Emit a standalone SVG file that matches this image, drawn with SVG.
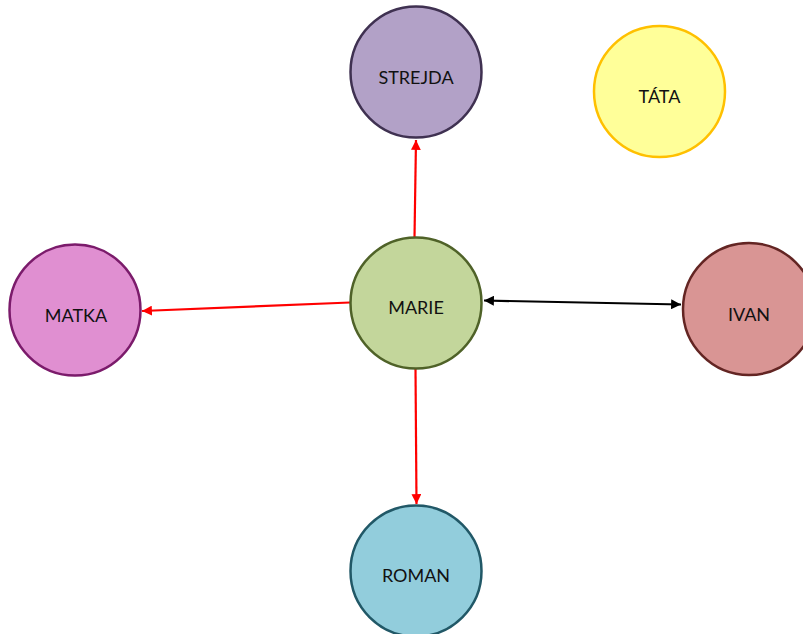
<svg xmlns="http://www.w3.org/2000/svg" width="803" height="634" viewBox="0 0 803 634">
<defs>
<marker id="ar" viewBox="0 0 10 10" refX="10" refY="5" markerWidth="4.5" markerHeight="4.5" orient="auto-start-reverse" markerUnits="strokeWidth"><path d="M0,0L10,5L0,10z" fill="#ff0000"/></marker>
<marker id="ab" viewBox="0 0 10 10" refX="10" refY="5" markerWidth="4.5" markerHeight="4.5" orient="auto-start-reverse" markerUnits="strokeWidth"><path d="M0,0L10,5L0,10z" fill="#000"/></marker>
<style>
circle{stroke-width:2.5}
text{font-family:Lato,"Open Sans","Liberation Sans",sans-serif;font-size:18px;fill:#111;text-anchor:middle;dominant-baseline:central}
.r{stroke:#ff0000;stroke-width:2.2;fill:none;marker-end:url(#ar)}
.b{stroke:#000;stroke-width:2.2;fill:none;marker-end:url(#ab);marker-start:url(#ab)}
</style>
</defs>
<rect width="803" height="634" fill="#fff"/>
<g id="connectors">
<line class="r" x1="414.5" y1="237" x2="416" y2="140"/>
<line class="r" x1="350" y1="302.5" x2="142" y2="311"/>
<line class="r" x1="415.5" y1="369" x2="416.5" y2="504"/>
<line class="b" x1="484" y1="300.5" x2="681" y2="304.5"/>
</g>
<g id="strejda"><circle cx="416" cy="72" r="65.5" fill="#b2a1c7" stroke="#3f3151"/><text x="416" y="77">STREJDA</text></g>
<g id="tata"><circle cx="659.5" cy="91.5" r="65.5" fill="#ffff99" stroke="#ffc000"/><text x="659.5" y="96">TÁTA</text></g>
<g id="matka"><circle cx="75" cy="310" r="65.5" fill="#e08fd1" stroke="#7b1b6b"/><text x="76" y="315">MATKA</text></g>
<g id="marie"><circle cx="416" cy="303" r="65.5" fill="#c3d69b" stroke="#4f6228"/><text x="416" y="307">MARIE</text></g>
<g id="ivan"><circle cx="749" cy="309" r="66" fill="#d99594" stroke="#632523"/><text x="749" y="314">IVAN</text></g>
<g id="roman"><circle cx="416" cy="571" r="65.5" fill="#92cddc" stroke="#215867"/><text x="416" y="575">ROMAN</text></g>
</svg>
